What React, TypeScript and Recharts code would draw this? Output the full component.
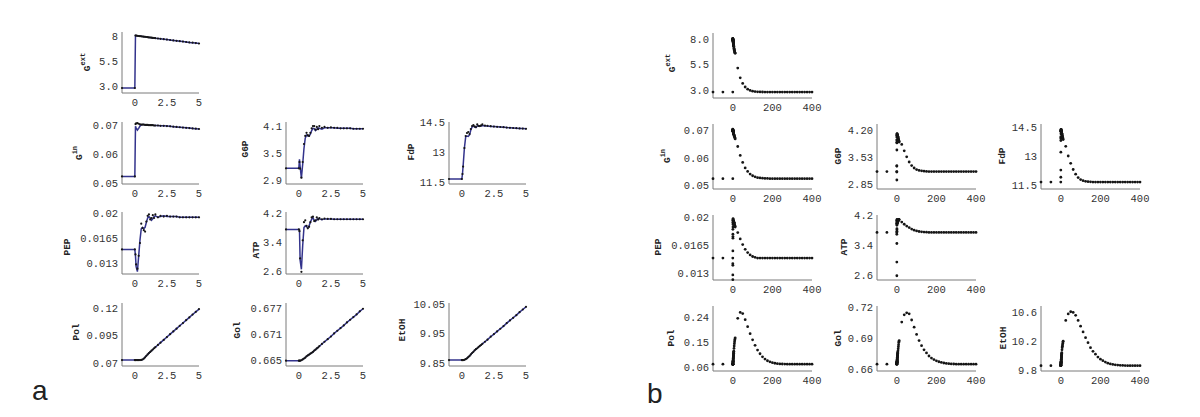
import React from 'react';
import { ComposedChart, Line, Scatter, XAxis, YAxis } from 'recharts';

// ---------------- Panel a (0..5 min) ----------------
const tA = [-1, 0, 0.05, 0.1, 0.2, 0.3, 0.4, 0.5, 0.6, 0.7, 0.8, 0.9, 1.0, 1.1, 1.2, 1.3, 1.4, 1.5, 1.6, 1.8, 2.0, 2.25, 2.5, 2.75, 3.0, 3.25, 3.5, 3.75, 4.0, 4.25, 4.5, 4.75, 5.0];

const gextA = [2.8, 2.8, 8.05, 8.04, 8.02, 8.0, 7.98, 7.97, 7.95, 7.93, 7.92, 7.9, 7.88, 7.86, 7.85, 7.83, 7.81, 7.8, 7.78, 7.75, 7.72, 7.68, 7.64, 7.6, 7.56, 7.52, 7.48, 7.44, 7.4, 7.36, 7.33, 7.29, 7.25];

const ginLineA = [0.0523, 0.0523, 0.0695, 0.069, 0.0682, 0.0688, 0.0696, 0.07, 0.0701, 0.0701, 0.07, 0.07, 0.07, 0.0699, 0.0699, 0.0699, 0.0699, 0.0698, 0.0698, 0.0698, 0.0697, 0.0697, 0.0696, 0.0695, 0.0694, 0.0693, 0.0692, 0.0691, 0.069, 0.0689, 0.0688, 0.0687, 0.0686];
const ginDotsA = [0.0523, 0.0523, 0.0703, 0.0705, 0.0706, 0.0704, 0.0702, 0.0701, 0.0701, 0.0701, 0.07, 0.07, 0.07, 0.0699, 0.0699, 0.0699, 0.0699, 0.0698, 0.0698, 0.0698, 0.0697, 0.0697, 0.0696, 0.0695, 0.0694, 0.0693, 0.0692, 0.0691, 0.069, 0.0689, 0.0688, 0.0687, 0.0686];

const g6pLineA = [3.16, 3.16, 3.36, 3.2, 2.94, 3.25, 3.6, 3.83, 3.9, 3.88, 3.88, 3.92, 4.0, 4.05, 4.04, 4.0, 4.03, 4.06, 4.05, 4.03, 4.06, 4.06, 4.06, 4.06, 4.05, 4.05, 4.05, 4.05, 4.05, 4.04, 4.04, 4.04, 4.04];
const g6pDotsA = [3.16, 3.16, 3.3, 3.15, 2.95, 3.3, 3.7, 3.88, 3.95, 3.9, 3.88, 3.95, 4.05, 4.1, 4.1, 4.02, 4.08, 4.03, 4.1, 4.06, 4.08, 4.06, 4.07, 4.06, 4.06, 4.05, 4.05, 4.05, 4.05, 4.04, 4.04, 4.04, 4.04];

const fdpLineA = [11.65, 11.65, 11.9, 12.3, 13.2, 13.75, 13.8, 13.78, 13.85, 14.1, 14.25, 14.3, 14.25, 14.22, 14.3, 14.32, 14.28, 14.3, 14.32, 14.3, 14.3, 14.28, 14.27, 14.26, 14.25, 14.24, 14.22, 14.21, 14.2, 14.19, 14.18, 14.17, 14.16];
const fdpDotsA = [11.65, 11.65, 11.9, 12.27, 13.2, 13.8, 13.95, 14.0, 13.9, 14.15, 14.3, 14.35, 14.28, 14.25, 14.38, 14.3, 14.3, 14.33, 14.38, 14.32, 14.31, 14.29, 14.27, 14.26, 14.25, 14.24, 14.22, 14.21, 14.2, 14.19, 14.18, 14.17, 14.16];

const pepLineA = [0.0149, 0.0149, 0.014, 0.0125, 0.0118, 0.014, 0.0162, 0.0178, 0.018, 0.0178, 0.018, 0.0187, 0.0193, 0.0195, 0.0193, 0.019, 0.0192, 0.0195, 0.0196, 0.0194, 0.0195, 0.0196, 0.0195, 0.0195, 0.0195, 0.0195, 0.0194, 0.0194, 0.0194, 0.0194, 0.0194, 0.0194, 0.0194];
const pepDotsA = [0.0149, 0.0149, 0.0142, 0.0128, 0.0122, 0.014, 0.0158, 0.0185, 0.0179, 0.0176, 0.0174, 0.0188, 0.0196, 0.0198, 0.0191, 0.0193, 0.0197, 0.0193, 0.0198, 0.0194, 0.0196, 0.0195, 0.0196, 0.0195, 0.0195, 0.0195, 0.0194, 0.0194, 0.0194, 0.0194, 0.0194, 0.0194, 0.0194];

const atpLineA = [3.75, 3.75, 3.75, 2.9, 2.65, 3.3, 3.8, 3.85, 3.82, 3.8, 3.85, 3.95, 4.03, 4.07, 4.0, 3.97, 4.02, 4.05, 4.04, 4.02, 4.04, 4.04, 4.04, 4.03, 4.03, 4.03, 4.03, 4.03, 4.03, 4.03, 4.03, 4.03, 4.03];
const atpDotsA = [3.75, 3.75, 3.7, 2.95, 2.58, 3.45, 3.95, 4.0, 3.85, 3.78, 3.82, 3.95, 4.08, 4.1, 3.98, 4.0, 4.08, 4.02, 4.06, 4.03, 4.05, 4.04, 4.04, 4.03, 4.03, 4.03, 4.03, 4.03, 4.03, 4.03, 4.03, 4.03, 4.03];

const polA = [0.0727, 0.0727, 0.0727, 0.0727, 0.0727, 0.0727, 0.0727, 0.0728, 0.0732, 0.074, 0.0752, 0.0765, 0.0778, 0.079, 0.0801, 0.0812, 0.0823, 0.0834, 0.0844, 0.0864, 0.0885, 0.091, 0.0936, 0.0962, 0.0987, 0.1012, 0.1038, 0.1063, 0.1089, 0.1114, 0.114, 0.1165, 0.119];
const golA = [0.665, 0.665, 0.665, 0.665, 0.6651, 0.6653, 0.6655, 0.6657, 0.666, 0.6662, 0.6664, 0.6666, 0.6668, 0.667, 0.6673, 0.6675, 0.6678, 0.668, 0.6683, 0.6688, 0.6693, 0.6699, 0.6705, 0.6712, 0.6718, 0.6724, 0.673, 0.6737, 0.6743, 0.6749, 0.6755, 0.6762, 0.6768];
const etohA = [9.86, 9.86, 9.86, 9.86, 9.861, 9.863, 9.866, 9.87, 9.874, 9.879, 9.884, 9.888, 9.893, 9.897, 9.9, 9.904, 9.908, 9.911, 9.915, 9.922, 9.929, 9.939, 9.948, 9.957, 9.966, 9.975, 9.985, 9.994, 10.003, 10.012, 10.022, 10.031, 10.04];

// ---------------- Panel b (-100..400 min) ----------------
const tBPre = [-100, -50];
const tBExt = [6, 7, 8, 9, 10, 11, 12];
const tBDecay = [25, 37.5, 50, 62.5, 75, 87.5, 100, 112.5, 125, 137.5, 150, 162.5, 175, 187.5, 200, 212.5, 225, 237.5, 250, 262.5, 275, 287.5, 300, 312.5, 325, 337.5, 350, 362.5, 375, 387.5, 400];

const gextExtB = [7.1, 7.0, 6.9, 6.8, 6.7, 6.65, 6.6];
const gextDecayB = [5.15, 4.2, 3.65, 3.3, 3.08, 2.96, 2.89, 2.85, 2.83, 2.82, 2.81, 2.8, 2.8, 2.8, 2.8, 2.8, 2.8, 2.8, 2.8, 2.8, 2.8, 2.8, 2.8, 2.8, 2.8, 2.8, 2.8, 2.8, 2.8, 2.8, 2.8];
const ginExtB = [0.0684, 0.0682, 0.068, 0.0678, 0.0675, 0.0673, 0.067];
const ginDecayB = [0.0642, 0.0609, 0.0583, 0.0563, 0.055, 0.054, 0.0534, 0.053, 0.0527, 0.0526, 0.0525, 0.0524, 0.0524, 0.0523, 0.0523, 0.0523, 0.0523, 0.0523, 0.0523, 0.0523, 0.0523, 0.0523, 0.0523, 0.0523, 0.0523, 0.0523, 0.0523, 0.0523, 0.0523, 0.0523, 0.0523];
const g6pExtB = [4.02, 4.0, 3.98, 3.96, 3.94, 3.92, 3.9];
const g6pDecayB = [3.84, 3.68, 3.53, 3.4, 3.31, 3.25, 3.21, 3.19, 3.18, 3.17, 3.165, 3.16, 3.16, 3.16, 3.16, 3.16, 3.16, 3.16, 3.16, 3.16, 3.16, 3.16, 3.16, 3.16, 3.16, 3.16, 3.16, 3.16, 3.16, 3.16, 3.16];
const fdpExtB = [14.15, 14.1, 14.05, 14.0, 13.95, 13.9, 13.85];
const fdpDecayB = [13.5, 13.0, 12.62, 12.3, 12.06, 11.88, 11.78, 11.72, 11.69, 11.67, 11.66, 11.65, 11.65, 11.65, 11.65, 11.65, 11.65, 11.65, 11.65, 11.65, 11.65, 11.65, 11.65, 11.65, 11.65, 11.65, 11.65, 11.65, 11.65, 11.65, 11.65];
const pepExtB = [0.0194, 0.0193, 0.0192, 0.0191, 0.019, 0.0189, 0.0188];
const pepDecayB = [0.0181, 0.0173, 0.0166, 0.016, 0.0156, 0.0153, 0.0151, 0.015, 0.0149, 0.0149, 0.0149, 0.0149, 0.0149, 0.0149, 0.0149, 0.0149, 0.0149, 0.0149, 0.0149, 0.0149, 0.0149, 0.0149, 0.0149, 0.0149, 0.0149, 0.0149, 0.0149, 0.0149, 0.0149, 0.0149, 0.0149];
const atpExtB = [4.05, 4.07, 4.08, 4.09, 4.1, 4.1, 4.09];
const atpDecayB = [4.03, 3.97, 3.92, 3.88, 3.84, 3.81, 3.79, 3.775, 3.765, 3.76, 3.755, 3.75, 3.75, 3.75, 3.75, 3.75, 3.75, 3.75, 3.75, 3.75, 3.75, 3.75, 3.75, 3.75, 3.75, 3.75, 3.75, 3.75, 3.75, 3.75, 3.75];
const polExtB = [0.129, 0.138, 0.146, 0.153, 0.159, 0.163, 0.167];
const polDecayB = [0.237, 0.258, 0.254, 0.232, 0.207, 0.182, 0.16, 0.14, 0.123, 0.11, 0.099, 0.091, 0.085, 0.081, 0.078, 0.076, 0.0745, 0.0737, 0.0732, 0.0729, 0.0728, 0.0727, 0.0727, 0.0727, 0.0727, 0.0727, 0.0727, 0.0727, 0.0727, 0.0727, 0.0727];
const golExtB = [0.678, 0.68, 0.682, 0.684, 0.686, 0.687, 0.688];
const golDecayB = [0.706, 0.713, 0.715, 0.714, 0.708, 0.701, 0.694, 0.688, 0.683, 0.679, 0.676, 0.673, 0.671, 0.6695, 0.6683, 0.6674, 0.6667, 0.6662, 0.6658, 0.6655, 0.6653, 0.6652, 0.665, 0.665, 0.665, 0.665, 0.665, 0.665, 0.665, 0.665, 0.665];
const etohExtB = [10.08, 10.11, 10.13, 10.15, 10.17, 10.19, 10.2];
const etohDecayB = [10.49, 10.58, 10.61, 10.6, 10.56, 10.49, 10.41, 10.33, 10.25, 10.18, 10.11, 10.06, 10.02, 9.98, 9.95, 9.93, 9.91, 9.895, 9.885, 9.878, 9.872, 9.868, 9.865, 9.863, 9.862, 9.86, 9.86, 9.86, 9.86, 9.86, 9.86];

// ---------------- Ticks ----------------
const xTicksA = [0, 2.5, 5];
const xLabelsA = ['0', '2.5', '5'];
const xTicksB = [0, 200, 400];
const xLabelsB = ['0', '200', '400'];

// ---------------- Helpers / styles ----------------
type Pt = { t: number; v: number };
const zip = (ts: number[], vs: number[]): Pt[] => ts.map((t, i) => ({ t, v: vs[i] }));
const buildB = (dotsA: number[], ext: number[], decay: number[]): Pt[] => [
  ...zip(tBPre, tBPre.map(() => dotsA[0])),
  ...zip(tA.slice(1), dotsA.slice(1)),
  ...zip(tBExt, ext),
  ...zip(tBDecay, decay),
];

const MONO = '"Liberation Mono", "DejaVu Sans Mono", monospace';
const AXIS = '#7a7a7a';
const LINE = '#33338c';
const ML = 62, MT = 6, MR = 14, MB = 22;

interface PlotCfg {
  key: string;
  left: number; top: number; w: number; h: number;
  xDomain: [number, number]; xTicks: number[]; xLabels: string[];
  yDomain: [number, number]; yTicks: number[]; yLabels: string[];
  line?: Pt[]; dots: Pt[]; dotR: number;
  label: string; sup?: string; lx: number; ly: number;
}

function Plot(p: PlotCfg) {
  const fx = (v: number) => { const i = p.xTicks.indexOf(v); return i >= 0 ? p.xLabels[i] : String(v); };
  const fy = (v: number) => { const i = p.yTicks.indexOf(v); return i >= 0 ? p.yLabels[i] : String(v); };
  const r = p.dotR;
  return (
    <div style={{ position: 'absolute', left: p.left - ML, top: p.top - MT }}>
      <ComposedChart width={p.w + ML + MR} height={p.h + MT + MB} margin={{ top: MT, right: MR, bottom: 0, left: 0 }}>
        <XAxis type="number" dataKey="t" domain={p.xDomain} ticks={p.xTicks} tickFormatter={fx} interval={0}
          height={MB} tickLine={false} tickSize={0} tickMargin={6}
          axisLine={{ stroke: AXIS, strokeWidth: 1 }}
          tick={{ fontSize: 10.5, fill: '#333', fontFamily: MONO }} />
        <YAxis type="number" dataKey="v" domain={p.yDomain} ticks={p.yTicks} tickFormatter={fy} interval={0}
          width={ML} tickLine={false} tickSize={0} tickMargin={4}
          axisLine={{ stroke: AXIS, strokeWidth: 1 }}
          tick={{ fontSize: 10.5, fill: '#333', fontFamily: MONO }} />
        <Scatter data={p.dots} dataKey="v" fill="#111" isAnimationActive={false}
          shape={(s: any) => <circle cx={s.cx} cy={s.cy} r={r} fill="#151515" />} />
        {p.line ? (
          <Line data={p.line} dataKey="v" type="linear" stroke={LINE} strokeWidth={1.5}
            dot={false} activeDot={false} isAnimationActive={false} />
        ) : null}
      </ComposedChart>
    </div>
  );
}

const colA = [122, 286, 449];
const rowA = [[32, 93], [122, 184], [212, 274], [303, 366]];
const wA = 77;
const colB = [713, 877, 1041];
const rowB = [[33, 98], [124, 189], [215, 280], [306, 371]];
const wB = 99;

const pa = (c: number, r: number) => ({ left: colA[c], top: rowA[r][0], w: wA, h: rowA[r][1] - rowA[r][0], xDomain: [-1, 5] as [number, number], xTicks: xTicksA, xLabels: xLabelsA, dotR: 1.1 });
const pb = (c: number, r: number) => ({ left: colB[c], top: rowB[r][0], w: wB, h: rowB[r][1] - rowB[r][0], xDomain: [-100, 400] as [number, number], xTicks: xTicksB, xLabels: xLabelsB, dotR: 1.4 });

const plots: PlotCfg[] = [
  // panel a
  { key: 'a-gext', ...pa(0, 0), yDomain: [2.3, 8.4], yTicks: [3, 5.5, 8], yLabels: ['3.0', '5.5', '8'], line: zip(tA, gextA), dots: zip(tA, gextA), label: 'G', sup: 'ext', lx: 87, ly: 62 },
  { key: 'a-gin', ...pa(0, 1), yDomain: [0.0497, 0.071], yTicks: [0.05, 0.06, 0.07], yLabels: ['0.05', '0.06', '0.07'], line: zip(tA, ginLineA), dots: zip(tA, ginDotsA), label: 'G', sup: 'in', lx: 79, ly: 153 },
  { key: 'a-g6p', ...pa(1, 1), yDomain: [2.81, 4.19], yTicks: [2.9, 3.5, 4.1], yLabels: ['2.9', '3.5', '4.1'], line: zip(tA, g6pLineA), dots: zip(tA, g6pDotsA), label: 'G6P', lx: 245, ly: 149 },
  { key: 'a-fdp', ...pa(2, 1), yDomain: [11.4, 14.5], yTicks: [11.5, 13, 14.5], yLabels: ['11.5', '13', '14.5'], line: zip(tA, fdpLineA), dots: zip(tA, fdpDotsA), label: 'FdP', lx: 411, ly: 152 },
  { key: 'a-pep', ...pa(0, 2), yDomain: [0.01146, 0.02014], yTicks: [0.013, 0.0165, 0.02], yLabels: ['0.013', '0.0165', '0.02'], line: zip(tA, pepLineA), dots: zip(tA, pepDotsA), label: 'PEP', lx: 67, ly: 247 },
  { key: 'a-atp', ...pa(1, 2), yDomain: [2.52, 4.23], yTicks: [2.6, 3.4, 4.2], yLabels: ['2.6', '3.4', '4.2'], line: zip(tA, atpLineA), dots: zip(tA, atpDotsA), label: 'ATP', lx: 256, ly: 250 },
  { key: 'a-pol', ...pa(0, 3), yDomain: [0.0673, 0.1245], yTicks: [0.07, 0.095, 0.12], yLabels: ['0.07', '0.095', '0.12'], line: zip(tA, polA), dots: zip(tA, polA), label: 'Pol', lx: 76, ly: 332 },
  { key: 'a-gol', ...pa(1, 3), yDomain: [0.6638, 0.6781], yTicks: [0.665, 0.671, 0.677], yLabels: ['0.665', '0.671', '0.677'], line: zip(tA, golA), dots: zip(tA, golA), label: 'Gol', lx: 237, ly: 330 },
  { key: 'a-etoh', ...pa(2, 3), yDomain: [9.84, 10.053], yTicks: [9.85, 9.95, 10.05], yLabels: ['9.85', '9.95', '10.05'], line: zip(tA, etohA), dots: zip(tA, etohA), label: 'EtOH', lx: 402, ly: 330 },
  // panel b
  { key: 'b-gext', ...pb(0, 0), yDomain: [2.22, 8.59], yTicks: [3, 5.5, 8], yLabels: ['3.0', '5.5', '8.0'], dots: buildB(gextA, gextExtB, gextDecayB), label: 'G', sup: 'ext', lx: 672, ly: 63 },
  { key: 'b-gin', ...pb(0, 1), yDomain: [0.0485, 0.0725], yTicks: [0.05, 0.06, 0.07], yLabels: ['0.05', '0.06', '0.07'], dots: buildB(ginDotsA, ginExtB, ginDecayB), label: 'G', sup: 'in', lx: 667, ly: 156 },
  { key: 'b-g6p', ...pb(1, 1), yDomain: [2.725, 4.35], yTicks: [2.85, 3.525, 4.2], yLabels: ['2.85', '3.53', '4.20'], dots: buildB(g6pDotsA, g6pExtB, g6pDecayB), label: 'G6P', lx: 838, ly: 156 },
  { key: 'b-fdp', ...pb(2, 1), yDomain: [11.29, 14.66], yTicks: [11.5, 13, 14.5], yLabels: ['11.5', '13', '14.5'], dots: buildB(fdpDotsA, fdpExtB, fdpDecayB), label: 'FdP', lx: 1002, ly: 156 },
  { key: 'b-pep', ...pb(0, 2), yDomain: [0.01216, 0.0203], yTicks: [0.013, 0.0165, 0.02], yLabels: ['0.013', '0.0165', '0.02'], dots: buildB(pepDotsA, pepExtB, pepDecayB), label: 'PEP', lx: 658, ly: 247 },
  { key: 'b-atp', ...pb(1, 2), yDomain: [2.465, 4.22], yTicks: [2.6, 3.4, 4.2], yLabels: ['2.6', '3.4', '4.2'], dots: buildB(atpDotsA, atpExtB, atpDecayB), label: 'ATP', lx: 844, ly: 247 },
  { key: 'b-pol', ...pb(0, 3), yDomain: [0.0482, 0.281], yTicks: [0.06, 0.15, 0.24], yLabels: ['0.06', '0.15', '0.24'], dots: buildB(polA, polExtB, polDecayB), label: 'Pol', lx: 671, ly: 338 },
  { key: 'b-gol', ...pb(1, 3), yDomain: [0.6584, 0.7216], yTicks: [0.66, 0.69, 0.72], yLabels: ['0.66', '0.69', '0.72'], dots: buildB(golA, golExtB, golDecayB), label: 'Gol', lx: 838, ly: 338 },
  { key: 'b-etoh', ...pb(2, 3), yDomain: [9.786, 10.69], yTicks: [9.8, 10.2, 10.6], yLabels: ['9.8', '10.2', '10.6'], dots: buildB(etohA, etohExtB, etohDecayB), label: 'EtOH', lx: 1003, ly: 338 },
];

export default function App() {
  return (
    <div style={{ position: 'absolute', left: 0, top: 0, width: 1200, height: 417, background: '#fff', overflow: 'hidden' }}>
      {plots.map((p) => <Plot {...p} key={p.key} />)}
      <svg width={1200} height={417} style={{ position: 'absolute', left: 0, top: 0, pointerEvents: 'none' }}>
        {plots.map((p) => (
          <text key={'l' + p.key} x={p.lx} y={p.ly} transform={`rotate(-90 ${p.lx} ${p.ly})`} textAnchor="middle"
            dominantBaseline="central" fontFamily={MONO} fontWeight="bold" fontSize={9.5} fill="#222">
            {p.label}
            {p.sup ? <tspan fontSize={7} dy={-4}>{p.sup}</tspan> : null}
          </text>
        ))}
        <text x={32} y={400} fontFamily='"Liberation Sans", Arial, sans-serif' fontSize={28} fill="#222">a</text>
        <text x={647} y={403} fontFamily='"Liberation Sans", Arial, sans-serif' fontSize={28} fill="#222">b</text>
      </svg>
    </div>
  );
}
